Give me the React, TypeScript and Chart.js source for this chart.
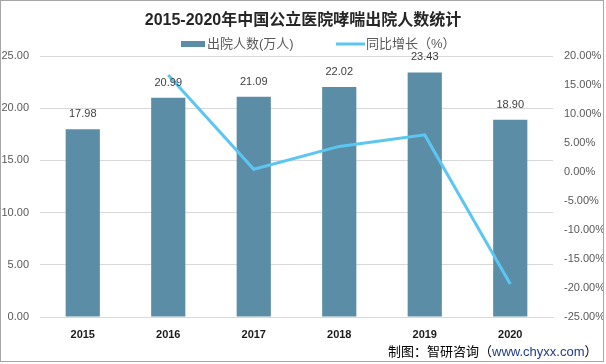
import React, { useEffect, useRef } from "react";
import { Chart, registerables } from "chart.js";

Chart.register(...registerables);

const years = ["2015", "2016", "2017", "2018", "2019", "2020"];
const discharges = [17.98, 20.99, 21.09, 22.02, 23.43, 18.9];
const growth = [null, 16.74, 0.48, 4.41, 6.4, -19.33];
const titleText = "2015-2020年中国公立医院哮喘出院人数统计";
const barLabel = "出院人数(万人)";
const lineLabel = "同比增长（%）";
const sourcePrefix = "制图：智研咨询（";
const sourceUrl = "www.chyxx.com";
const sourceSuffix = "）";

const FONT = "'Liberation Sans', 'Noto Sans CJK SC', sans-serif";
const BAR_COLOR = "#5b8ea6";
const LINE_COLOR = "#5bc6f2";

const decorPlugin = {
  id: "decor",
  beforeDraw(chart: any) {
    const ctx = chart.ctx;
    ctx.save();
    ctx.fillStyle = "#ffffff";
    ctx.fillRect(0, 0, chart.width, chart.height);
    ctx.restore();
  },
  afterDatasetsDraw(chart: any) {
    const ctx = chart.ctx;
    const meta = chart.getDatasetMeta(0);
    ctx.save();
    ctx.font = "11px " + FONT;
    ctx.fillStyle = "#404040";
    ctx.textAlign = "center";
    ctx.textBaseline = "middle";
    meta.data.forEach((bar: any, i: number) => {
      ctx.fillText(discharges[i].toFixed(2), bar.x, bar.y - 15);
    });
    ctx.restore();
  },
  afterDraw(chart: any) {
    const ctx = chart.ctx;
    ctx.save();
    // title
    ctx.font = "bold 16px " + FONT;
    ctx.fillStyle = "#262626";
    ctx.textAlign = "center";
    ctx.textBaseline = "middle";
    ctx.fillText(titleText, 303, 21);
    // legend
    ctx.fillStyle = BAR_COLOR;
    ctx.fillRect(181, 41, 24, 6);
    ctx.font = "13px " + FONT;
    ctx.fillStyle = "#595959";
    ctx.textAlign = "left";
    ctx.fillText(barLabel, 207, 44);
    ctx.strokeStyle = LINE_COLOR;
    ctx.lineWidth = 3;
    ctx.beginPath();
    ctx.moveTo(336, 44);
    ctx.lineTo(365, 44);
    ctx.stroke();
    ctx.fillText(lineLabel, 366, 44);
    // footer
    ctx.font = "13px " + FONT;
    let x = 388;
    const y = 352;
    ctx.fillStyle = "#000000";
    ctx.fillText(sourcePrefix, x, y);
    x += ctx.measureText(sourcePrefix).width;
    ctx.fillStyle = "#1f3a8a";
    ctx.fillText(sourceUrl, x, y);
    x += ctx.measureText(sourceUrl).width;
    ctx.fillStyle = "#000000";
    ctx.fillText(sourceSuffix, x, y);
    // frame
    ctx.strokeStyle = "#a6a6a6";
    ctx.lineWidth = 1;
    ctx.strokeRect(0.5, 0.5, 603, 361);
    ctx.restore();
  },
};

export default function App() {
  const ref = useRef<HTMLCanvasElement | null>(null);
  useEffect(() => {
    if (!ref.current) return;
    const chart = new Chart(ref.current, {
      type: "bar",
      data: {
        labels: years,
        datasets: [
          {
            type: "bar",
            label: barLabel,
            data: discharges,
            backgroundColor: BAR_COLOR,
            yAxisID: "y",
            categoryPercentage: 0.8,
            barPercentage: 0.5,
            order: 1,
          },
          {
            type: "line",
            label: lineLabel,
            data: growth as any,
            borderColor: LINE_COLOR,
            borderWidth: 3,
            pointRadius: 0,
            tension: 0,
            yAxisID: "y1",
            order: 0,
          },
        ],
      },
      options: {
        animation: false,
        responsive: false,
        devicePixelRatio: 1,
        layout: { padding: { left: 0, right: 3, top: 56, bottom: 0 } },
        plugins: {
          legend: { display: false },
          title: { display: false },
          tooltip: { enabled: false },
        },
        scales: {
          x: {
            grid: { display: false },
            border: { display: true, color: "#d9d9d9" },
            ticks: {
              color: "#1a1a1a",
              font: { family: FONT, size: 11, weight: "bold" },
              padding: 3,
            },
            afterFit: (s: any) => {
              s.height = 47;
            },
          },
          y: {
            position: "left",
            min: 0,
            max: 25,
            grid: { color: "#d9d9d9", drawTicks: false },
            border: { display: false },
            ticks: {
              stepSize: 5,
              color: "#595959",
              font: { family: FONT, size: 11 },
              padding: 11,
              callback: (v: any) => Number(v).toFixed(2),
            },
            afterFit: (s: any) => {
              s.width = 40;
            },
          },
          y1: {
            position: "right",
            min: -25,
            max: 20,
            grid: { display: false, drawTicks: false },
            border: { display: false },
            ticks: {
              stepSize: 5,
              color: "#595959",
              font: { family: FONT, size: 11 },
              padding: 11,
              callback: (v: any) => Number(v).toFixed(2) + "%",
            },
            afterFit: (s: any) => {
              s.width = 50;
            },
          },
        },
      },
      plugins: [decorPlugin],
    });
    return () => chart.destroy();
  }, []);
  return (
    <div style={{ position: "absolute", left: 0, top: 0 }}>
      <canvas ref={ref} width={606} height={364} style={{ display: "block" }} />
    </div>
  );
}
